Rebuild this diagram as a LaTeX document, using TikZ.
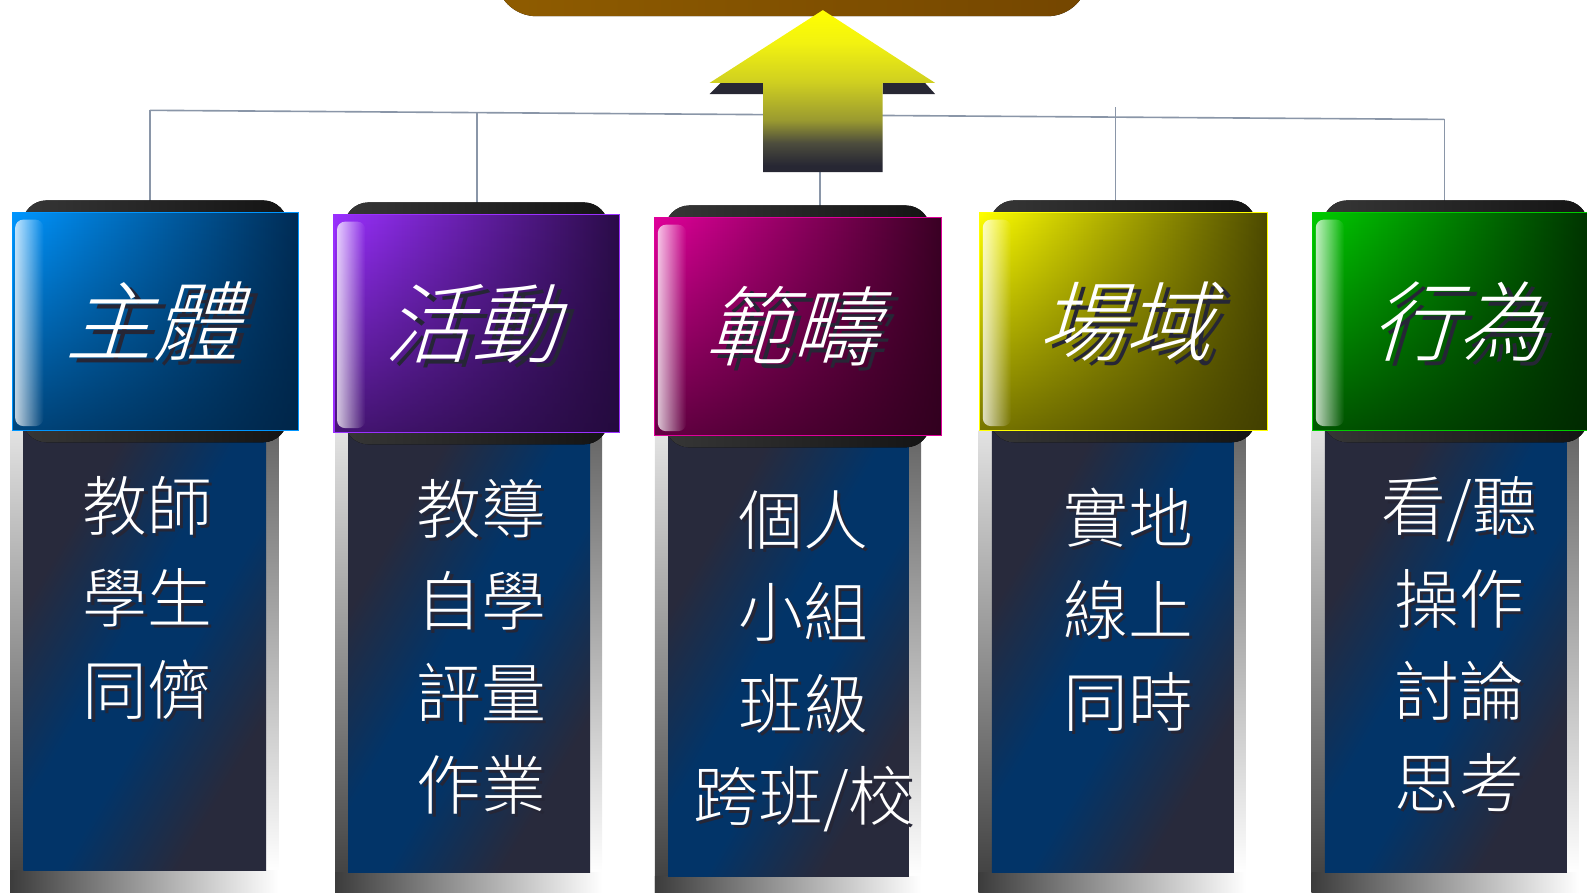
\documentclass[tikz,border=0pt]{standalone}
\usepackage{fontspec}
\IfFontExistsTF{Noto Sans CJK TC Light}{%
  \newfontfamily\cjk{Noto Sans CJK TC Light}%
  \newfontfamily\cjkit{Noto Sans CJK TC Light}[FakeSlant=0.3]%
}{%
  \newfontfamily\cjk{Noto Sans CJK TC}%
  \newfontfamily\cjkit{Noto Sans CJK TC}[FakeSlant=0.3]%
}
\usetikzlibrary{fadings,calc}

\definecolor{bodyD}{HTML}{282A3C}
\definecolor{bodyB}{HTML}{023468}
\definecolor{arD}{HTML}{272733}
\definecolor{arM1}{HTML}{4D4D3D}
\definecolor{arM2}{HTML}{9A9A30}
\definecolor{arY2}{HTML}{D0D020}
\definecolor{arY3}{HTML}{F2F210}
\definecolor{arY}{HTML}{FFFF00}
\definecolor{busc}{HTML}{8A96A8}
\definecolor{brownA}{HTML}{8F5C00}
\definecolor{brownB}{HTML}{744600}
\definecolor{capA}{HTML}{363636}
\definecolor{capB}{HTML}{141414}
\definecolor{txtsh}{HTML}{262636}
\definecolor{hA1}{HTML}{0096FF}\definecolor{hB1}{HTML}{002C55}
\definecolor{hA2}{HTML}{9A30FF}\definecolor{hB2}{HTML}{2A0C48}
\definecolor{hA3}{HTML}{E0009A}\definecolor{hB3}{HTML}{3A0024}
\definecolor{hA4}{HTML}{FFFF00}\definecolor{hB4}{HTML}{4D4A00}
\definecolor{hA5}{HTML}{00CC00}\definecolor{hB5}{HTML}{002E00}
\definecolor{panT}{HTML}{E2E2E2}
\definecolor{panB}{HTML}{3C3C3C}
\definecolor{panR}{HTML}{666666}

\pgfdeclarehorizontalshading{bodysh}{100bp}{color(0bp)=(bodyD); color(30bp)=(bodyD); color(46bp)=(bodyB); color(56bp)=(bodyB); color(72bp)=(bodyD); color(100bp)=(bodyD)}
\pgfdeclareverticalshading{arrowsh}{100bp}{color(0bp)=(arD); color(27bp)=(arD); color(34bp)=(arM1); color(41bp)=(arM2); color(53bp)=(arY2); color(65bp)=(arY3); color(75bp)=(arY); color(100bp)=(arY)}

\tikzfading[name=fadeDown, top color=transparent!100, middle color=transparent!88, bottom color=transparent!30]
\tikzfading[name=fadeRight, left color=transparent!25, right color=transparent!100]

\tikzset{
  bus/.style={draw=busc, line width=0.8pt},
  htext/.style={font=\cjkit\fontsize{43pt}{43pt}\selectfont, text=white, inner sep=0pt},
  htexts/.style={htext, text=txtsh},
  btext/.style={font=\cjk\fontsize{32pt}{45.5pt}\selectfont, text=white, align=center, inner sep=0pt},
  btexts/.style={btext, text=txtsh},
}

\begin{document}
\begin{tikzpicture}[x=0.5pt, y=-0.5pt]
\useasboundingbox (0,0) rectangle (1568,882);
\clip (0,0) rectangle (1568,882);

% top box
\fill[left color=brownA, right color=brownB, rounded corners=20pt] (490,-80) rectangle (1075,16);

% connectors
\coordinate (busL) at (148,109);
\coordinate (busR) at (1427,118);
\coordinate (t1) at (148,109);
\coordinate (t2) at (471,111);
\coordinate (t4) at (1102,106);
\coordinate (t5) at (1427,118);
\coordinate (d1) at (148,199);
\coordinate (d2) at (471,201);
\coordinate (d3) at (810,204);
\coordinate (d4) at (1102,201);
\coordinate (d5) at (1427,201);
\coordinate (afoot) at (810,170);
\draw[bus] (busL) -- (busR);
\draw[bus] (t1) -- (d1);
\draw[bus] (t2) -- (d2);
\draw[bus] (t4) -- (d4);
\draw[bus] (t5) -- (d5);
\draw[bus] (afoot) -- (d3);

% arrow
\fill[arD] (712,82) -- (754,82) -- (754,93) -- (701,93) -- cycle;
\fill[arD] (872,82) -- (914,82) -- (924,93) -- (872,93) -- cycle;
\shade[shading=arrowsh] (813,10) -- (924,82) -- (872,82) -- (872,170) -- (754,170) -- (754,82) -- (701,82) -- cycle;

% columns
\foreach \i/\L/\R/\T/\B/\bl/\br/\bb in {
  1/12/295/210/425/23/263/860,
  2/330/612/212/427/344/583/862,
  3/647/930/215/430/660/898/866,
  4/968/1252/210/425/980/1219/862,
  5/1297/1580/210/425/1309/1548/862}
{
  \fill[top color=panT, bottom color=panB] (\bl-13,\B) rectangle (\bl,882);
  \fill[top color=panR, bottom color=white] (\br,\B) rectangle (\br+12,\bb);
  \fill[left color=panB, right color=white] (\bl-13,\bb) rectangle (\br+12,882);
  \shade[shading=bodysh, shading angle=-30] (\bl,\B) rectangle (\br,\bb);
  \fill[left color=capA, right color=capB, rounded corners=12pt] (\L+10,\T-12) rectangle (\R-11,\B+12);
  \fill[left color=hA\i, right color=hB\i] (\L,\T) rectangle (\R,\B);
  \fill[hB\i!80!black, path fading=fadeDown] (\L,\T) rectangle (\R,\B);
  \draw[hA\i, line width=0.6pt] (\L,\T) rectangle (\R,\B);
  \fill[white, path fading=fadeRight, rounded corners=4pt] (\L+3,\T+7) rectangle (\L+31,\B-4);
}

% header texts
\node[htexts] at (158,323) {主體};  \node[htext] (h1) at (151,318) {主體};
\node[htexts] at (473,325) {活動};  \node[htext] (h2) at (466,320) {活動};
\node[htexts] at (789,327) {範疇};  \node[htext] (h3) at (782,322) {範疇};
\node[htexts] at (1118,323) {場域}; \node[htext] (h4) at (1111,318) {場域};
\node[htexts] at (1447,323) {行為}; \node[htext] (h5) at (1440,318) {行為};

% body texts
\node[btexts] at (149,594) {教師\\學生\\同儕};
\node[btext] (b1) at (146,591) {教師\\學生\\同儕};
\node[btexts] at (479,642) {教導\\自學\\評量\\作業};
\node[btext] (b2) at (476,639) {教導\\自學\\評量\\作業};
\node[btexts] at (797,656.5) {個人\\小組\\班級\\跨班/校};
\node[btext] (b3) at (794,653.5) {個人\\小組\\班級\\跨班/校};
\node[btexts] at (1118,605.5) {實地\\線上\\同時};
\node[btext] (b4) at (1115,602.5) {實地\\線上\\同時};
\node[btexts] at (1445,639.5) {看/聽\\操作\\討論\\思考};
\node[btext] (b5) at (1442,636.5) {看/聽\\操作\\討論\\思考};
\end{tikzpicture}
\end{document}
